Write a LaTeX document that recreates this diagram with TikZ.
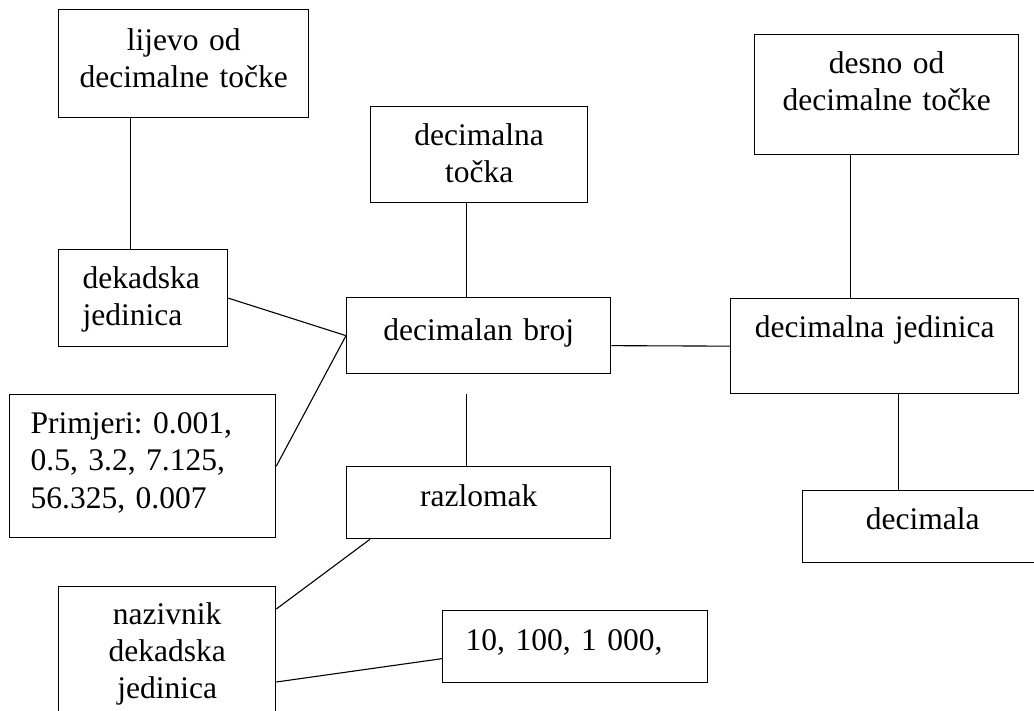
\documentclass[tikz,border=0pt]{standalone}
\usepackage{fontspec}
\setmainfont{Liberation Serif}
\usetikzlibrary{positioning}
\frenchspacing

\begin{document}
\begin{tikzpicture}[
        x=0.5pt, y=-0.5pt,
        box/.style={rectangle, draw, line width=0.65pt, anchor=north west, inner xsep=0pt, inner ysep=0pt, align=center, text height=19.5pt, font=\fontsize{15.75pt}{18.5pt}\selectfont},
        leftbox/.style={box, align=left},
        link/.style={line width=0.55pt}
    ]
        \useasboundingbox (0,0) rectangle (1034,711);

        \node[box, text width=125pt, text height=20.5pt, text depth=33.5pt] (lijevo) at (58,9) {lijevo od\\decimalne točke};
        \node[leftbox, text width=60.5pt, inner xsep=12pt, text depth=29pt] (dekadska) at (58,249) {dekadska\\jedinica};
        \node[box, text width=108.5pt, text depth=28.5pt] (tocka) at (370,106) {decimalna\\točka};
        \node[box, text width=132pt, text height=21.5pt, text depth=16.5pt] (broj) at (346,297) {decimalan broj};
        \node[box, text width=132pt, text depth=40.5pt] (desno) at (754,34) {desno od\\decimalne točke};
        \node[box, text width=144pt, text depth=28pt] (jedinica) at (730,298) {decimalna jedinica};
        \node[leftbox, text width=112pt, inner xsep=10.5pt, text height=19.25pt, text depth=52.25pt] (primjeri) at (9,394) {Primjeri: 0.001,\\[0.25pt]0.5, 3.2, 7.125,\\[0.25pt]56.325, 0.007};
        \node[box, text width=132pt, text height=20pt, text depth=16pt] (razlomak) at (346,466) {razlomak};
        \node[box, text width=120pt, text depth=16.5pt] (decimala) at (802,490) {decimala};
        \node[box, text width=108.5pt, text height=19pt, text depth=60pt] (nazivnik) at (58,586) {nazivnik\\dekadska\\jedinica};
        \node[leftbox, text width=109.5pt, inner xsep=11.5pt, text height=20pt, text depth=16pt] (potencije) at (442,610) {10, 100, 1~000,};

        \draw[link] ([xshift=-26.5pt]lijevo.south) -- ([xshift=-6.25pt]dekadska.north);
        \draw[link] ([xshift=-6.25pt]tocka.south) -- ([xshift=-6pt]broj.north);
        \draw[link] ([xshift=-18pt]desno.south) -- ([xshift=-12pt]jedinica.north);
        \draw[link] (dekadska.east) -- (broj.west);
        \draw[link] (primjeri.east) -- (broj.west);
        \draw[link] ([yshift=-5pt]broj.east) -- (jedinica.west);
        \coordinate (ispod) at ([xshift=-6pt, yshift=-10pt]broj.south);
        \draw[link] (ispod) -- ([xshift=-6pt]razlomak.north);
        \draw[link] ([xshift=12pt]jedinica.south) -- ([xshift=-12pt]decimala.north);
        \draw[link] ([xshift=12pt]razlomak.south west) -- ([yshift=-11.5pt]nazivnik.north east);
        \draw[link] ([yshift=-48pt]nazivnik.north east) -- ([yshift=-6pt]potencije.west);
    \end{tikzpicture}
\end{document}
